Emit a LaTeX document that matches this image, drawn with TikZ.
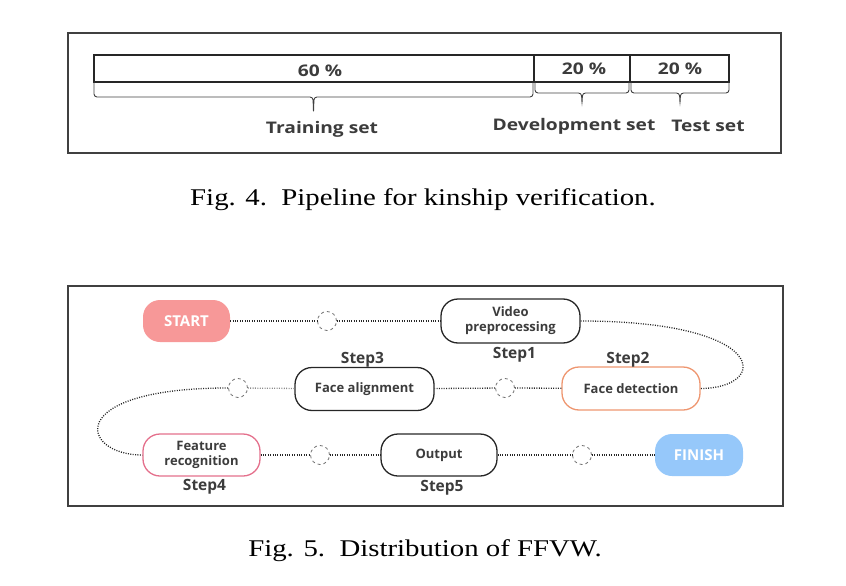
\documentclass[tikz,border=0pt]{standalone}
\usepackage{fontspec}
\setmainfont[FakeStretch=1.2]{Liberation Serif}
\newfontfamily\diagfont{Open Sans}
\newfontfamily\widefont[FakeStretch=1.2]{Open Sans}
\usepackage{tikz}
\usetikzlibrary{positioning}
\definecolor{startpink}{RGB}{247,152,152}
\definecolor{finishblue}{RGB}{150,200,250}
\definecolor{detectorange}{RGB}{238,150,112}
\definecolor{featurepink}{RGB}{228,112,140}
\definecolor{textgrey}{RGB}{60,60,60}

\begin{document}
\begin{tikzpicture}[x=1pt,y=-1pt,
  frame/.style={draw=black!75,line width=1.3pt},
  bar/.style={draw=black!85,line width=1.4pt},
  brace/.style={draw=black!75,line width=0.9pt,rounded corners=3pt},
  setlabel/.style={font=\widefont\bfseries\fontsize{16}{18}\selectfont,text=textgrey},
  stepbox/.style={draw=black!85,line width=1.3pt,rounded corners=17pt,minimum height=43pt,align=center,
    font=\diagfont\bfseries\fontsize{13}{15}\selectfont,text=textgrey,inner sep=2pt},
  endbox/.style={rounded corners=17pt,minimum height=42pt,minimum width=87pt,
    font=\diagfont\bfseries\fontsize{15}{17}\selectfont,text=white},
  steplabel/.style={font=\diagfont\bfseries\fontsize{15.5}{17}\selectfont,text=textgrey,inner sep=1pt},
  waypoint/.style={circle,draw=black!55,dashed,line width=0.8pt,minimum size=19pt,inner sep=0pt},
  link/.style={draw=black!85,line width=1.3pt,dash pattern=on 1pt off 1.4pt},
  caption/.style={font=\fontsize{24}{28}\selectfont}]
\useasboundingbox (0,0) rectangle (846,586);

%Fig. 4: Aufteilung
\draw[frame] (68,33) rectangle (781,153);
\draw[bar] (94,55) rectangle (729,82);
\draw[bar] (534,55) -- (534,82);
\draw[bar] (630,55) -- (630,82);
\node[setlabel] (sixty) at (320,71) {60 \%};
\node[setlabel] (devpct) at (584,69) {20 \%};
\node[setlabel] (testpct) at (680,69) {20 \%};
\foreach \xa/\xb/\yb/\yt in {94/533/97/113, 535/629/93/104, 631/729/93/104}{
  \pgfmathsetmacro{\xm}{(\xa+\xb)/2}
  \draw[brace] (\xa,82) -- (\xa,\yb) -- (\xm-0.5,\yb) -- (\xm,\yt) -- (\xm+0.5,\yb) -- (\xb,\yb) -- (\xb,82);
}
\node[setlabel] (train) at (322,129) {Training set};
\node[setlabel] (dev) at (574,126) {Development set};
\node[setlabel] (test) at (708,126) {Test set};
\node[caption] (cap4) at (423,200) {Fig. 4.\ \ Pipeline for kinship verification.};

%Fig. 5: Ablauf
\draw[frame] (68,286) rectangle (783,506);
\node[endbox,fill=startpink] (start) at (186.5,321) {START};
\node[stepbox,minimum width=139pt,minimum height=44pt] (video) at (510.5,321) {Video\\preprocessing};
\node[stepbox,draw=detectorange,minimum width=138pt] (detect) at (631,388.5) {Face detection};
\node[stepbox,minimum width=139pt] (align) at (364.5,389) {Face alignment};
\node[stepbox,draw=featurepink,minimum width=117pt,minimum height=42pt] (feature) at (201.5,455) {Feature\\recognition};
\node[stepbox,minimum width=116pt,minimum height=42pt] (output) at (439,455) {Output};
\node[endbox,fill=finishblue,minimum width=88pt] (finish) at (699,455) {FINISH};

\node[waypoint] (c1) at (327,321) {};
\node[waypoint] (c2) at (505,388) {};
\node[waypoint] (c3) at (238,388) {};
\node[waypoint] (c4) at (320,455) {};
\node[waypoint] (c5) at (582,455) {};

\node[steplabel,below=2pt of video,xshift=4pt] (s1) {Step1};
\node[steplabel,above=-2pt of detect,xshift=-3pt] (s2) {Step2};
\node[steplabel,above=-2pt of align,xshift=-2pt] (s3) {Step3};
\node[steplabel,below=1pt of feature,xshift=3pt] (s4) {Step4};
\node[steplabel,below=2pt of output,xshift=3pt] (s5) {Step5};

\draw[link] (start) -- (c1);
\draw[link] (c1) -- (video);
\draw[link] (video.east) .. controls (770,321) and (770,388) .. (detect.east);
\draw[link] (detect) -- (c2);
\draw[link] (c2) -- (align);
\draw[link,draw=black!45] (align) -- (c3);
\draw[link] (c3.west) .. controls (62,388) and (80,455) .. (feature.west);
\draw[link] (feature) -- (c4);
\draw[link] (c4) -- (output);
\draw[link] (output) -- (c5);
\draw[link] (c5) -- (finish);
\node[caption] (cap5) at (425,551) {Fig. 5.\ \ Distribution of FFVW.};
\end{tikzpicture}
\end{document}
